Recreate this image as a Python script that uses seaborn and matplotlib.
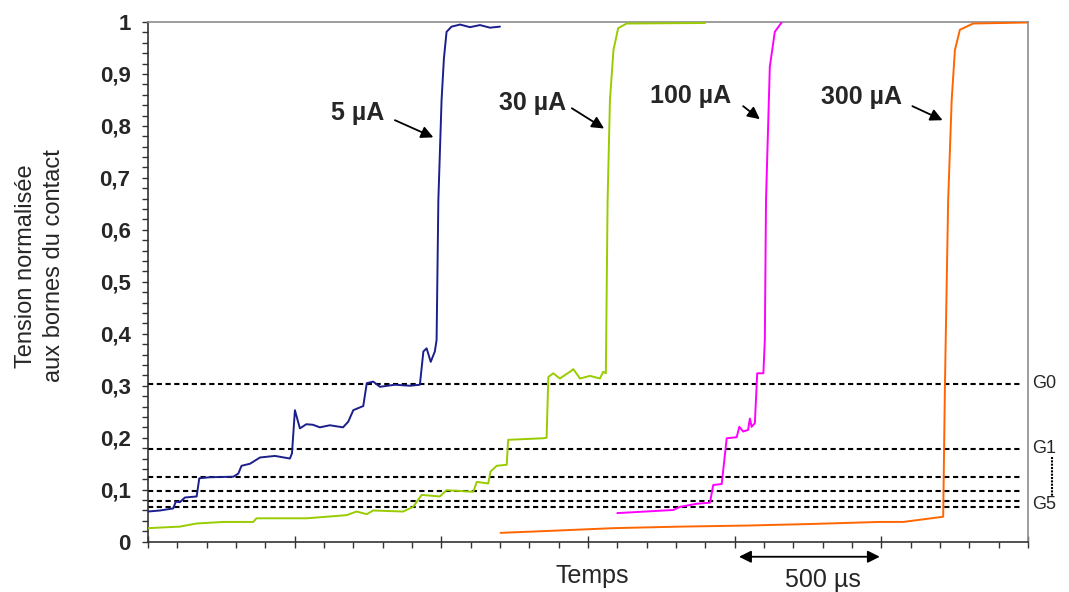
import numpy as np
import pandas as pd
import matplotlib
matplotlib.use("Agg")
import matplotlib.pyplot as plt
from matplotlib.ticker import MultipleLocator, FuncFormatter
import seaborn as sns

# time in microseconds, normalised voltage
t_5 = [0, 41, 86, 95, 109, 126, 166, 175, 211, 291, 308, 319, 348, 382, 433, 484, 491,
       501, 518, 540, 562, 586, 620, 665, 683, 700, 734, 746, 768, 791, 842, 893, 927,
       939, 950, 964, 978, 984, 990, 1001, 1009, 1018, 1035, 1064, 1098, 1132, 1166, 1200]
v_5 = [0.058, 0.060, 0.064, 0.077, 0.076, 0.085, 0.087, 0.122, 0.124, 0.125, 0.131, 0.146,
       0.150, 0.162, 0.165, 0.160, 0.170, 0.253, 0.218, 0.226, 0.225, 0.220, 0.224, 0.220,
       0.231, 0.253, 0.261, 0.305, 0.308, 0.298, 0.302, 0.300, 0.302, 0.366, 0.372, 0.346,
       0.366, 0.388, 0.657, 0.850, 0.930, 0.981, 0.991, 0.995, 0.990, 0.994, 0.989, 0.991]

t_30 = [0, 109, 166, 257, 359, 370, 541, 677, 711, 746, 768, 870, 904, 933, 995, 1018, 1109,
        1121, 1160, 1168, 1189, 1223, 1228, 1348, 1359, 1365, 1382, 1404, 1439, 1450, 1473,
        1507, 1541, 1552, 1561, 1567, 1575, 1587, 1603, 1632, 1899]
v_30 = [0.026, 0.029, 0.035, 0.038, 0.038, 0.045, 0.045, 0.051, 0.058, 0.053, 0.060, 0.058,
        0.067, 0.090, 0.087, 0.099, 0.096, 0.115, 0.112, 0.135, 0.146, 0.148, 0.196, 0.199,
        0.200, 0.317, 0.324, 0.314, 0.327, 0.332, 0.314, 0.319, 0.314, 0.327, 0.324, 0.657,
        0.850, 0.946, 0.988, 0.997, 0.998]

t_100 = [1600, 1791, 1814, 1871, 1916, 1927, 1956, 1973, 2007, 2016, 2029, 2046, 2052, 2058,
         2069, 2077, 2098, 2103, 2107, 2120, 2137, 2160]
v_100 = [0.055, 0.061, 0.067, 0.073, 0.075, 0.109, 0.111, 0.199, 0.201, 0.221, 0.212, 0.215,
         0.237, 0.221, 0.228, 0.324, 0.324, 0.388, 0.657, 0.914, 0.981, 0.999]

t_300 = [1202, 1336, 1586, 1814, 2041, 2257, 2495, 2575, 2711, 2717, 2720, 2728, 2740, 2751,
         2768, 2813, 3000]
v_300 = [0.017, 0.020, 0.026, 0.029, 0.031, 0.034, 0.038, 0.038, 0.048, 0.300, 0.400, 0.657,
         0.850, 0.946, 0.985, 0.997, 0.999]

series = ["5 µA", "30 µA", "100 µA", "300 µA"]
colors = ["#1b1f8c", "#99cc00", "#ff00ff", "#ff6600"]

levels = [0.303, 0.178, 0.125, 0.098, 0.078, 0.067]

sns.set_style("white")
plt.rcParams['font.family'] = ['Liberation Sans', 'DejaVu Sans']

fig = plt.figure(figsize=(10.69, 5.92), dpi=100)
ax = fig.add_axes([0.1384, 0.085, 0.8232, 0.8779])

for lv in levels:
    ax.plot([0, 2980], [lv, lv], color="black", lw=1.5, ls=(0, (2.5, 1.7)), zorder=1)

for name, t, v, c in zip(series, [t_5, t_30, t_100, t_300], [v_5, v_30, v_100, v_300], colors):
    df = pd.DataFrame({"t": t, "v": v})
    sns.lineplot(data=df, x="t", y="v", ax=ax, color=c, lw=1.4, sort=False,
                 estimator=None, zorder=3)

ax.set_xlim(0, 3000)
ax.set_ylim(0, 1)
ax.set_xlabel("")
ax.set_ylabel("")

ax.xaxis.set_major_locator(MultipleLocator(500))
ax.xaxis.set_minor_locator(MultipleLocator(100))
ax.yaxis.set_major_locator(MultipleLocator(0.1))
ax.yaxis.set_minor_locator(MultipleLocator(0.02))
ax.set_xticklabels([])
ax.yaxis.set_major_formatter(FuncFormatter(
    lambda v, p: "0" if abs(v) < 1e-9 else ("1" if abs(v - 1) < 1e-9 else f"{v:.1f}".replace(".", ","))))
ax.tick_params(axis="x", which="major", direction="inout", length=9, width=1, color="#333333", bottom=True)
ax.tick_params(axis="x", which="minor", direction="out", length=4.5, width=1, color="#333333", bottom=True)
ax.tick_params(axis="y", which="both", direction="out", length=4.5, width=1, color="#333333", left=True)
ax.tick_params(axis="y", which="major", labelsize=16, pad=8)
for lab in ax.get_yticklabels():
    lab.set_fontweight("bold")

for s in ["left", "bottom"]:
    ax.spines[s].set_color("#333333")
    ax.spines[s].set_linewidth(1.2)
for s in ["top", "right"]:
    ax.spines[s].set_color("#8c8c8c")
    ax.spines[s].set_linewidth(1.2)

# curve labels with arrows
labels_xy = [(716, 0.825), (1312, 0.844), (1851, 0.857), (2431, 0.855)]
tails = [(842, 0.811), (1445, 0.834), (2029, 0.838), (2606, 0.838)]
tips = [(973, 0.778), (1555, 0.795), (2086, 0.813), (2709, 0.811)]
for name, lxy, tail, tip in zip(series, labels_xy, tails, tips):
    ax.text(lxy[0], lxy[1], name, fontsize=18, fontweight="bold", ha="center", va="center")
    ax.annotate("", xy=tip, xytext=tail,
                arrowprops=dict(arrowstyle="-|>", color="black", lw=1.3, mutation_scale=18,
                                shrinkA=0, shrinkB=0))

# level names on the right
for txt, y in [("G0", 0.305), ("G1", 0.180), ("G5", 0.071)]:
    ax.text(1.005, y, txt, transform=ax.get_yaxis_transform(), fontsize=13,
            ha="left", va="center", clip_on=False)
ax.plot([1.0275, 1.0275], [0.163, 0.088], transform=ax.get_yaxis_transform(),
        color="black", lw=1.5, ls=(0, (1, 0.6)), clip_on=False)

# time scale bar
ax.annotate("", xy=(2495, -0.029), xytext=(2015, -0.029), annotation_clip=False,
            arrowprops=dict(arrowstyle="<|-|>", color="black", lw=1.3, mutation_scale=18,
                            shrinkA=0, shrinkB=0))
ax.text(0.767, -0.074, "500 µs", transform=ax.transAxes, fontsize=18, ha="center", va="center")
ax.text(0.5045, -0.066, "Temps", transform=ax.transAxes, fontsize=18, ha="center", va="center")

fig.text(40 / 1069, 1 - 266 / 592, "Tension normalisée\naux bornes du contact", rotation=90,
         fontsize=17, ha="center", va="center", multialignment="center", linespacing=1.4)

fig.savefig("out.png", dpi=100)
